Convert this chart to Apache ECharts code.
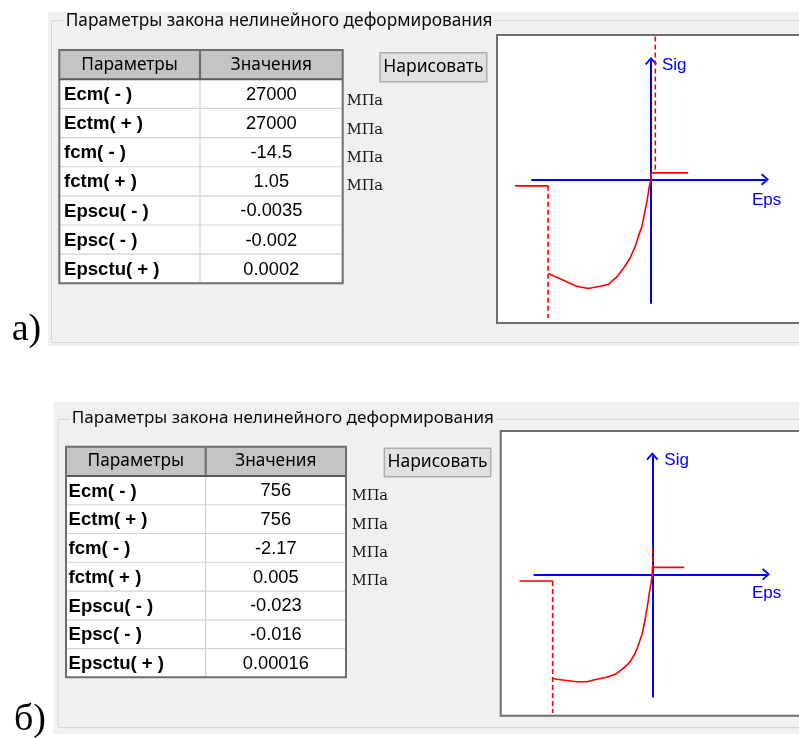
<!DOCTYPE html>
<html><head><meta charset="utf-8">
<script src="https://cdn.jsdelivr.net/npm/echarts@6/dist/echarts.min.js"></script>
<style>html,body{margin:0;padding:0;background:#fff;}#c{width:799px;height:738px;}</style>
</head><body><div id="c"></div>
<script>
// ---------- texts ----------
const groupTitle = 'Параметры закона нелинейного деформирования';
const headers = ['Параметры', 'Значения'];
const buttonText = 'Нарисовать';
const paramNames = ['Ecm( - )', 'Ectm( + )', 'fcm( - )', 'fctm( + )', 'Epscu( - )', 'Epsc( - )', 'Epsctu( + )'];
const valuesA = ['27000', '27000', '-14.5', '1.05', '-0.0035', '-0.002', '0.0002'];
const valuesB = ['756', '756', '-2.17', '0.005', '-0.023', '-0.016', '0.00016'];
const units = ['МПа', 'МПа', 'МПа', 'МПа'];
const panelLabels = ['а)', 'б)'];
const axisNames = ['Eps', 'Sig'];

// ---------- chart a) : [Eps, Sig] ----------
const compressionA = [[-0.00345,-12.49],[-0.0025,-14.18],[-0.00211,-14.48],[-0.00171,-14.18],[-0.00144,-13.95],
  [-0.00115,-12.94],[-0.00093,-11.82],[-0.00071,-10.49],[-0.00054,-8.95],[-0.00043,-7.62],[-0.00031,-6.29],
  [-0.00024,-4.96],[-0.00017,-3.63],[-0.00011,-2.30],[-0.00006,-0.97],[0,0]];
const tensionA = [[0,0],[0,0.88],[0.00125,0.88]];
const limitLeftA = [[-0.00457,-0.84],[-0.00346,-0.84]];
const epscuLineA = [[-0.00346,-0.84],[-0.00346,-18.4]];
const epsctuLineA = [[0.000145,19.0],[0.000145,0.88]];

// ---------- chart б) ----------
const compressionB = [[-0.0230,-2.10],[-0.02186,-2.12],[-0.01728,-2.17],[-0.0150,-2.17],[-0.01271,-2.12],
  [-0.01043,-2.08],[-0.00853,-2.02],[-0.00663,-1.90],[-0.0051,-1.77],[-0.00396,-1.60],[-0.00304,-1.39],
  [-0.00229,-1.19],[-0.00167,-0.92],[-0.00114,-0.65],[-0.00069,-0.38],[-0.0003,-0.18],[0,0]];
const tensionB = [[0,0],[0,0.14],[0.0073,0.14]];
const limitLeftB = [[-0.0304,-0.135],[-0.0228,-0.135]];
const epscuLineB = [[-0.0228,-0.135],[-0.0228,-2.80]];
const epsctuLineB = [[0.0001,0.52],[0.0001,0.14]];

// axis ranges (blue axes)
const xRangeA = [-0.004, 0.003832], yRangeA = [-16.4, 15.74];
const xRangeB = [-0.027, 0.026],    yRangeB = [-2.473, 2.384];

// ---------- layout ----------
const UI = 'Noto Sans';
const panels = [
  {bgX:48, bgY:12, bgH:334, gbX:51.5, gbY:20.5, gbH:322, titleX:63.7, titleY:20.8, titleSize:17.3,
   tb:{l:59.3, t:50, r:342.7, div:200, hb:79.3, bottom:283.3}, labelX:64, valX:271.3,
   btn:{x:380, y:52.7, w:106.7, h:29}, unitX:346.7, unitY0:101.7, unitDy:28.3,
   frame:{x:497, y:35, b:323}, lab:{x:11.7, y:330}, values: valuesA,
   grid:{left:532, top:61, width:233, height:242}, outer:{left:499, top:36, width:290, height:286}},
  {bgX:53.5, bgY:401.7, bgH:332.3, gbX:58, gbY:419.3, gbH:308.3, titleX:69.7, titleY:418, titleSize:17.1,
   tb:{l:66, t:446.7, r:346, div:205.7, hb:476, bottom:677.3}, labelX:68.5, valX:275.8,
   btn:{x:384.3, y:448.3, w:106.4, h:28.4}, unitX:351.7, unitY0:496.7, unitDy:28.33,
   frame:{x:500.7, y:431, b:715.7}, lab:{x:14, y:720}, values: valuesB,
   grid:{left:534.3, top:456.3, width:231.7, height:240.4}, outer:{left:502, top:432, width:290, height:283}}
];

function txt(x, y, text, o) {
  return {type:'text', z:0, x:x, y:y, silent:true,
    style:Object.assign({text:text, fill:'#000', fontFamily:UI, fontSize:17,
      align:'left', verticalAlign:'middle', textAlign:'left', textVerticalAlign:'middle'}, o||{})};
}
function line(x1,y1,x2,y2,color,w){
  return {type:'line', z:0, silent:true, shape:{x1:x1,y1:y1,x2:x2,y2:y2}, style:{stroke:color, lineWidth:w||1}};
}

const graphics = [];
panels.forEach((p, pi) => {
  graphics.push({type:'rect', z:0, silent:true, shape:{x:p.bgX, y:p.bgY, width:820-p.bgX, height:p.bgH}, style:{fill:'#f0f0f0'}});
  graphics.push({type:'rect', z:0, silent:true, shape:{x:p.gbX, y:p.gbY, width:830-p.gbX, height:p.gbH, r:2}, style:{fill:'none', stroke:'#d3d3d3', lineWidth:1}});
  graphics.push(txt(p.titleX, p.titleY, groupTitle, {backgroundColor:'#f0f0f0', padding:[0,2,0,2], fill:'#0a0a0a', fontSize:p.titleSize}));
  const t = p.tb, rh = (t.bottom - t.hb) / paramNames.length;
  graphics.push({type:'rect', z:0, silent:true, shape:{x:t.l, y:t.t, width:t.r-t.l, height:t.hb-t.t}, style:{fill:'#c4c4c4'}});
  graphics.push({type:'rect', z:0, silent:true, shape:{x:t.l, y:t.hb, width:t.r-t.l, height:t.bottom-t.hb}, style:{fill:'#ffffff'}});
  for (let i = 1; i < paramNames.length; i++) graphics.push(line(t.l, t.hb+i*rh, t.r, t.hb+i*rh, '#d2d2d2', 1.2));
  graphics.push(line(t.div, t.hb, t.div, t.bottom, '#d2d2d2', 1.2));
  graphics.push(line(t.div, t.t, t.div, t.hb, '#6a6a6a', 2));
  graphics.push(line(t.l, t.hb, t.r, t.hb, '#5a5a5a', 2));
  graphics.push({type:'rect', z:0, silent:true, shape:{x:t.l, y:t.t, width:t.r-t.l, height:t.bottom-t.t}, style:{fill:'none', stroke:'#6d6d6d', lineWidth:2}});
  graphics.push(txt((t.l+t.div)/2, (t.t+t.hb)/2, headers[0], {align:'center', textAlign:'center', fontSize:17.3}));
  graphics.push(txt((t.div+t.r)/2, (t.t+t.hb)/2, headers[1], {align:'center', textAlign:'center', fontSize:17.3}));
  paramNames.forEach((n, i) => {
    const cy = t.hb + (i+0.5)*rh + 1;
    graphics.push(txt(p.labelX, cy, n, {fontFamily:'Liberation Sans', fontWeight:'bold', fontSize:18.6}));
    graphics.push(txt(p.valX, cy, p.values[i], {fontFamily:'Liberation Sans', fontSize:18.3, align:'center', textAlign:'center'}));
  });
  units.forEach((u, i) => graphics.push(txt(p.unitX, p.unitY0 + i*p.unitDy, u, {fontFamily:'DejaVu Serif', fontSize:14.6, fill:'#151515'})));
  graphics.push({type:'rect', z:0, silent:true, shape:{x:p.btn.x, y:p.btn.y, width:p.btn.w, height:p.btn.h}, style:{fill:'#e1e1e1', stroke:'#adadad', lineWidth:1.5}});
  graphics.push(txt(p.btn.x + p.btn.w/2, p.btn.y + p.btn.h/2, buttonText, {align:'center', textAlign:'center', fontSize:17.5}));
  graphics.push({type:'rect', z:0, silent:true, shape:{x:p.frame.x, y:p.frame.y, width:830-p.frame.x, height:p.frame.b-p.frame.y}, style:{fill:'#ffffff', stroke:'#6e6e6e', lineWidth:2}});
  graphics.push(txt(p.lab.x, p.lab.y, panelLabels[pi], {fontFamily:'Liberation Serif', fontSize:38}));
});

// outer (frame-sized) ranges with the same scale as the blue axes
function outerX(g, o, r){
  const k = g.width/(r[1]-r[0]);
  return [r[0] - (g.left - o.left)/k, r[1] + ((o.left+o.width) - (g.left+g.width))/k];
}
function outerY(g, o, r){
  const k = g.height/(r[1]-r[0]);
  return [r[0] - ((o.top+o.height) - (g.top+g.height))/k, r[1] + (g.top - o.top)/k];
}

const arrow = 'path://M6,0 L12,6.8 L10.6,8 L6,2.6 L1.4,8 L0,6.8 Z';
function xAx(idx, range, gap, padTop){
  return {type:'value', gridIndex:idx, min:range[0], max:range[1], z:1,
    axisLine:{show:true, onZero:true, lineStyle:{color:'#0000ff', width:2}, symbol:['none', arrow], symbolSize:[12,8]},
    axisTick:{show:false}, axisLabel:{show:false}, splitLine:{show:false},
    name:axisNames[0], nameLocation:'end', nameGap:gap,
    nameTextStyle:{color:'#0000ff', fontFamily:'Liberation Sans', fontSize:17, align:'left', verticalAlign:'top', padding:[padTop,0,0,0]}};
}
function yAx(idx, range, gap, padLeft){
  return {type:'value', gridIndex:idx, min:range[0], max:range[1], z:1,
    axisLine:{show:true, onZero:true, lineStyle:{color:'#0000ff', width:2}, symbol:['none', arrow], symbolSize:[12,8]},
    axisTick:{show:false}, axisLabel:{show:false}, splitLine:{show:false},
    name:axisNames[1], nameLocation:'end', nameGap:gap,
    nameTextStyle:{color:'#0000ff', fontFamily:'Liberation Sans', fontSize:17, align:'left', verticalAlign:'middle', padding:[0,0,0,padLeft]}};
}
function hiddenAx(idx, range){
  return {type:'value', gridIndex:idx, min:range[0], max:range[1], show:false, splitLine:{show:false}};
}
function red(idx, data, dashed){
  return {type:'line', xAxisIndex:idx, yAxisIndex:idx, data:data, showSymbol:false, symbol:'none', z:2,
    silent:true, animation:false,
    lineStyle:{color:'#ff0000', width:1.6, type: dashed ? [5,3] : 'solid'}};
}

const P0 = panels[0], P1 = panels[1];
const option = {
  animation:false,
  backgroundColor:'#ffffff',
  graphic:{elements:graphics},
  grid:[Object.assign({containLabel:false}, P0.grid), Object.assign({containLabel:false}, P1.grid),
        Object.assign({containLabel:false}, P0.outer), Object.assign({containLabel:false}, P1.outer)],
  xAxis:[xAx(0, xRangeA, -13, 12), xAx(1, xRangeB, -14, 11),
         hiddenAx(2, outerX(P0.grid, P0.outer, xRangeA)), hiddenAx(3, outerX(P1.grid, P1.outer, xRangeB))],
  yAxis:[yAx(0, yRangeA, -4, 11), yAx(1, yRangeB, -4, 12),
         hiddenAx(2, outerY(P0.grid, P0.outer, yRangeA)), hiddenAx(3, outerY(P1.grid, P1.outer, yRangeB))],
  series:[
    red(2, compressionA.concat(tensionA.slice(1))), red(2, limitLeftA), red(2, epscuLineA, true), red(2, epsctuLineA, true),
    red(3, compressionB.concat(tensionB.slice(1))), red(3, limitLeftB), red(3, epscuLineB, true), red(3, epsctuLineB, true)
  ]
};
const chart = echarts.init(document.getElementById('c'), null, {renderer:'canvas'});
chart.setOption(option);
</script></body></html>
